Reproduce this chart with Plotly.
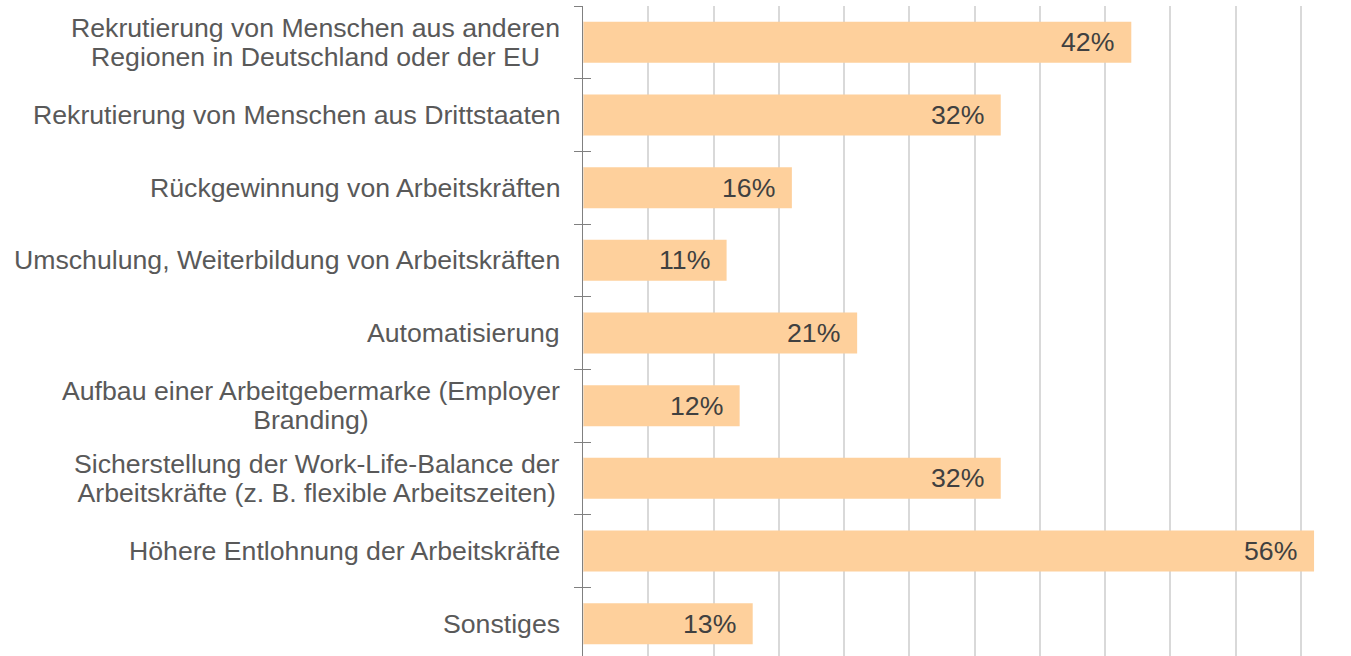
import plotly.graph_objects as go

categories = [
    "Rekrutierung von Menschen aus anderen<br>Regionen in Deutschland oder der EU",
    "Rekrutierung von Menschen aus Drittstaaten",
    "Rückgewinnung von Arbeitskräften",
    "Umschulung, Weiterbildung von Arbeitskräften",
    "Automatisierung",
    "Aufbau einer Arbeitgebermarke (Employer<br>Branding)",
    "Sicherstellung der Work-Life-Balance der<br>Arbeitskräfte (z. B. flexible Arbeitszeiten)",
    "Höhere Entlohnung der Arbeitskräfte",
    "Sonstiges",
]
values = [42, 32, 16, 11, 21, 12, 32, 56, 13]
value_labels = [f"{v}%" for v in values]

BAR = "#FED09C"
FONT = "Liberation Sans, Arial, sans-serif"
FS = 26.67
LINE_GAP = 28.5  # distance between wrapped label lines
LABEL_COLOR = "#595959"
HIDE = "rgba(0,0,0,0)"

fig = go.Figure()
fig.add_trace(go.Bar(
    x=values, y=categories, orientation="h",
    marker=dict(color=BAR, line=dict(width=0)),
    width=0.565, hoverinfo="skip", showlegend=False,
))
# invisible trace for the inner half of the crossing ticks
fig.add_trace(go.Bar(
    x=[0] * len(values), y=categories, orientation="h", yaxis="y2",
    marker=dict(color=HIDE), hoverinfo="skip", showlegend=False,
))

# value labels inside bar ends
for cat, v, lab in zip(categories, values, value_labels):
    fig.add_annotation(
        x=v, y=cat, text=lab, showarrow=False, xanchor="right", yanchor="middle",
        xshift=-15, font=dict(family=FONT, size=FS, color="#404040"),
    )

# category labels (centred multi-line blocks, right aligned to the axis)
for cat in categories:
    lines = cat.split("<br>")
    if len(lines) == 1:
        fig.add_annotation(
            x=0, xref="paper", y=cat, yref="y", text=cat, showarrow=False,
            xanchor="right", yanchor="middle", xshift=-21, align="center",
            font=dict(family=FONT, size=FS, color=LABEL_COLOR),
        )
    else:
        txt = "<br>".join(f'<span style="font-size:{FS}px">{ln}</span>' for ln in lines)
        fig.add_annotation(
            x=0, xref="paper", y=cat, yref="y", text=txt, showarrow=False,
            xanchor="right", yanchor="middle", xshift=-21, align="center",
            font=dict(family=FONT, size=LINE_GAP / 1.3, color=LABEL_COLOR),
        )

yrange = [8.445, -0.5]
fig.update_layout(
    width=1351, height=656,
    margin=dict(l=583, r=0, t=6, b=0, autoexpand=False),
    paper_bgcolor="white", plot_bgcolor="white",
    bargap=0.435,
    font=dict(family=FONT, size=FS, color=LABEL_COLOR),
    xaxis=dict(
        range=[0, 58.83], dtick=5, showgrid=True, gridcolor="#D9D9D9", gridwidth=2,
        showticklabels=False, zeroline=False, showline=False, ticks="",
        automargin=False, fixedrange=True,
    ),
    yaxis=dict(
        type="category", categoryorder="array", categoryarray=categories,
        range=yrange, showline=True, linecolor="#808080", linewidth=1,
        ticks="outside", ticklen=8, tickcolor="#808080", tickwidth=1,
        tickson="boundaries", showgrid=False, showticklabels=False,
        automargin=False, fixedrange=True,
    ),
    yaxis2=dict(
        type="category", categoryorder="array", categoryarray=categories,
        range=yrange, overlaying="y", side="left", anchor="x",
        showline=False, ticks="inside", ticklen=8, tickcolor="#808080", tickwidth=1,
        tickson="boundaries", showgrid=False, showticklabels=False,
        automargin=False, fixedrange=True,
    ),
)

fig.write_html(
    "out.html",
    config={"displayModeBar": False},
    post_script="document.body.style.margin='0';document.body.style.overflow='hidden';",
)
